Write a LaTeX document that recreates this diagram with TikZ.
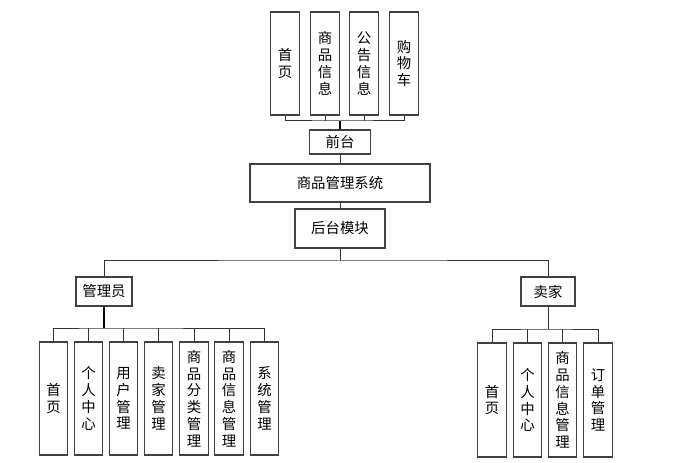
\documentclass[tikz,border=0pt]{standalone}
\usepackage{fontspec}
\setmainfont{Noto Sans CJK SC}
\begin{document}
\begin{tikzpicture}[x=0.75pt,y=-0.75pt,
  box/.style={draw=black!75,line width=0.9pt,fill=white,inner sep=0pt,align=center,
    font=\fontsize{10.8pt}{12.6pt}\selectfont},
  vbox/.style={box,minimum width=21.5pt},
  link/.style={draw=black!80,line width=0.75pt},
  trunk/.style={draw=black,line width=1.5pt}]
\useasboundingbox (0,0) rectangle (685,463);
% top level
\node[vbox,minimum height=77.25pt] (t1) at (285,63.5) {首\\页};
\node[vbox,minimum height=77.25pt] (t2) at (325,63.5) {商\\品\\信\\息};
\node[vbox,minimum height=77.25pt] (t3) at (364,63.5) {公\\告\\信\\息};
\node[vbox,minimum height=77.25pt] (t4) at (404,63.5) {购\\物\\车};
\node[box,minimum width=45.75pt,minimum height=18pt] (qt) at (340,142) {前台};
\node[box,minimum width=135pt,minimum height=28.5pt] (sys) at (340,183) {商品管理系统};
\node[box,minimum width=67.5pt,minimum height=29.25pt] (ht) at (340,228.5) {后台模块};
% admin and seller
\node[box,minimum width=42pt,minimum height=21.75pt] (gl) at (104,291.5) {管理员};
\node[box,minimum width=40.5pt,minimum height=21.75pt] (mj) at (548,291.5) {卖家};
% admin children
\node[vbox,minimum height=84.75pt] (a1) at (53.5,398.5) {首\\页};
\node[vbox,minimum height=84.75pt] (a2) at (88.5,398.5) {个\\人\\中\\心};
\node[vbox,minimum height=84.75pt] (a3) at (123.5,398.5) {用\\户\\管\\理};
\node[vbox,minimum height=84.75pt] (a4) at (158.5,398.5) {卖\\家\\管\\理};
\node[vbox,minimum height=84.75pt] (a5) at (194,398.5) {商\\品\\分\\类\\管\\理};
\node[vbox,minimum height=84.75pt] (a6) at (229,398.5) {商\\品\\信\\息\\管\\理};
\node[vbox,minimum height=84.75pt] (a7) at (264.5,398.5) {系\\统\\管\\理};
% seller children
\node[vbox,minimum height=85.5pt] (s1) at (492,400) {首\\页};
\node[vbox,minimum height=85.5pt] (s2) at (527.5,400) {个\\人\\中\\心};
\node[vbox,minimum height=85.5pt] (s3) at (562.5,400) {商\\品\\信\\息\\管\\理};
\node[vbox,minimum height=85.5pt] (s4) at (598,400) {订\\单\\管\\理};
% hubs
\coordinate (hq) at (340,121);
\coordinate (hh) at (340,261);
\coordinate (hg) at (104,328);
\coordinate (hm) at (548,329);
% front connectors
\draw[link] (t1.south) |- (hq) -| (t4.south);
\draw[link] (t2.south) -- (t2.south |- hq);
\draw[link] (t3.south) -- (t3.south |- hq);
\draw[trunk] (hq) -- (qt.north);
\draw[link] (qt.south) -- (sys.north);
\draw[link] (sys.south) -- (ht.north);
% back connectors
\draw[link] (ht.south) -- (hh);
\draw[link] (gl.north) |- (hh) -| (mj.north);
\draw[trunk] (gl.south) -- (hg);
\draw[link] (a1.north) |- (hg) -| (a7.north);
\foreach \n in {a2,a3,a4,a5,a6} \draw[link] (\n.north) -- (\n.north |- hg);
\draw[link] (mj.south) -- (hm);
\draw[link] (s1.north) |- (hm) -| (s4.north);
\foreach \n in {s2,s3} \draw[link] (\n.north) -- (\n.north |- hm);
\end{tikzpicture}
\end{document}
